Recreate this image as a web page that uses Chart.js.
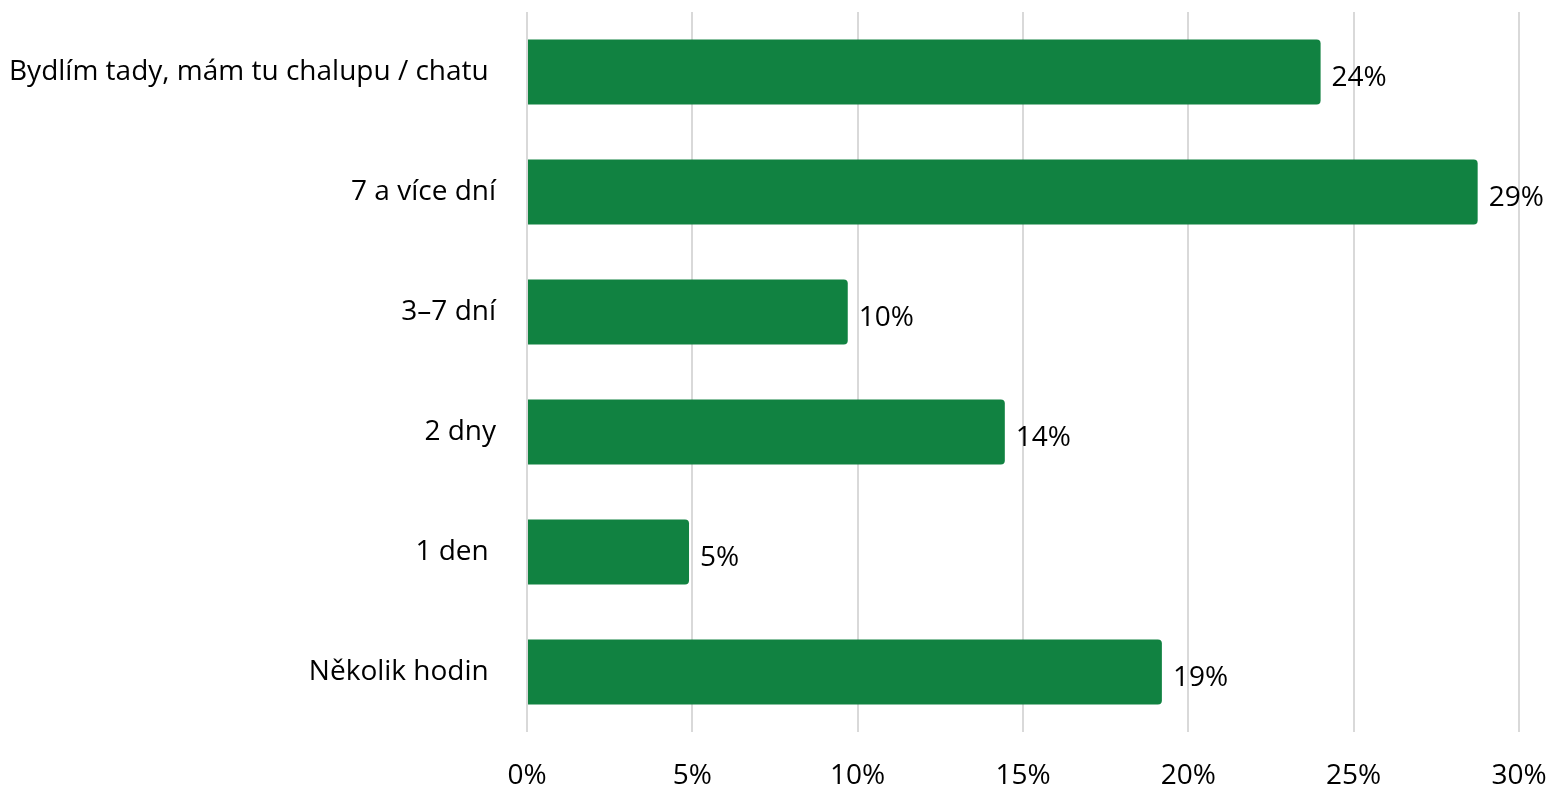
<!DOCTYPE html>
<html>
<head>
<meta charset="utf-8">
<script src="https://cdn.jsdelivr.net/npm/chart.js@4"></script>
<style>
  html, body { margin: 0; padding: 0; background: #fff; }
  #wrap { width: 1548px; height: 790px; position: relative; }
</style>
</head>
<body>
<div id="wrap"><canvas id="c" width="1548" height="790"></canvas></div>
<script>
const categories = [
  "Bydlím tady, mám tu chalupu / chatu ",
  "7 a více dní",
  "3–7 dní",
  "2 dny",
  "1 den ",
  "Několik hodin "
];
const values = [24.0, 28.75, 9.7, 14.45, 4.9, 19.2];
const tickValues = [0, 5, 10, 15, 20, 25, 30];

const FONT = "'Open Sans', 'Noto Sans', sans-serif";
const FONT_SIZE = 28;
const GREEN = "#118241";

const valueLabels = {
  id: "valueLabels",
  afterDatasetsDraw(chart) {
    const ctx = chart.ctx;
    const meta = chart.getDatasetMeta(0);
    ctx.save();
    ctx.font = FONT_SIZE + "px " + FONT;
    ctx.fillStyle = "#000";
    ctx.textAlign = "left";
    ctx.textBaseline = "middle";
    meta.data.forEach((bar, i) => {
      const v = chart.data.datasets[0].data[i];
      ctx.fillText(Math.round(v) + "%", bar.x + 11, bar.y + 6);
    });
    ctx.restore();
  }
};

function zeroPad(scale) {
  scale.paddingLeft = 0; scale.paddingRight = 0;
  scale.paddingTop = 0; scale.paddingBottom = 0;
}

new Chart(document.getElementById("c"), {
  type: "bar",
  data: {
    labels: categories,
    datasets: [{
      data: values,
      backgroundColor: GREEN,
      borderRadius: 4,
      barPercentage: 0.9,
      categoryPercentage: 0.6
    }]
  },
  options: {
    indexAxis: "y",
    responsive: false,
    animation: false,
    devicePixelRatio: 1,
    layout: { padding: { top: 12, left: 0, right: 29, bottom: 0 } },
    plugins: { legend: { display: false }, tooltip: { enabled: false } },
    scales: {
      x: {
        min: 0, max: 30,
        afterBuildTicks(scale) { scale.ticks = tickValues.map(v => ({ value: v })); },
        afterFit(scale) { scale.height = 58; zeroPad(scale); },
        grid: { color: "#d9d9d9", lineWidth: 2, drawTicks: false },
        border: { display: false },
        ticks: {
          font: { size: FONT_SIZE, family: FONT },
          color: "#000",
          padding: 27,
          maxRotation: 0,
          callback: v => v + "%"
        }
      },
      y: {
        afterFit(scale) { scale.width = 527; zeroPad(scale); },
        grid: { display: false, drawTicks: false },
        border: { display: false },
        ticks: {
          font: { size: FONT_SIZE, family: FONT },
          color: "#000",
          padding: 31
        }
      }
    }
  },
  plugins: [valueLabels]
});
</script>
</body>
</html>
